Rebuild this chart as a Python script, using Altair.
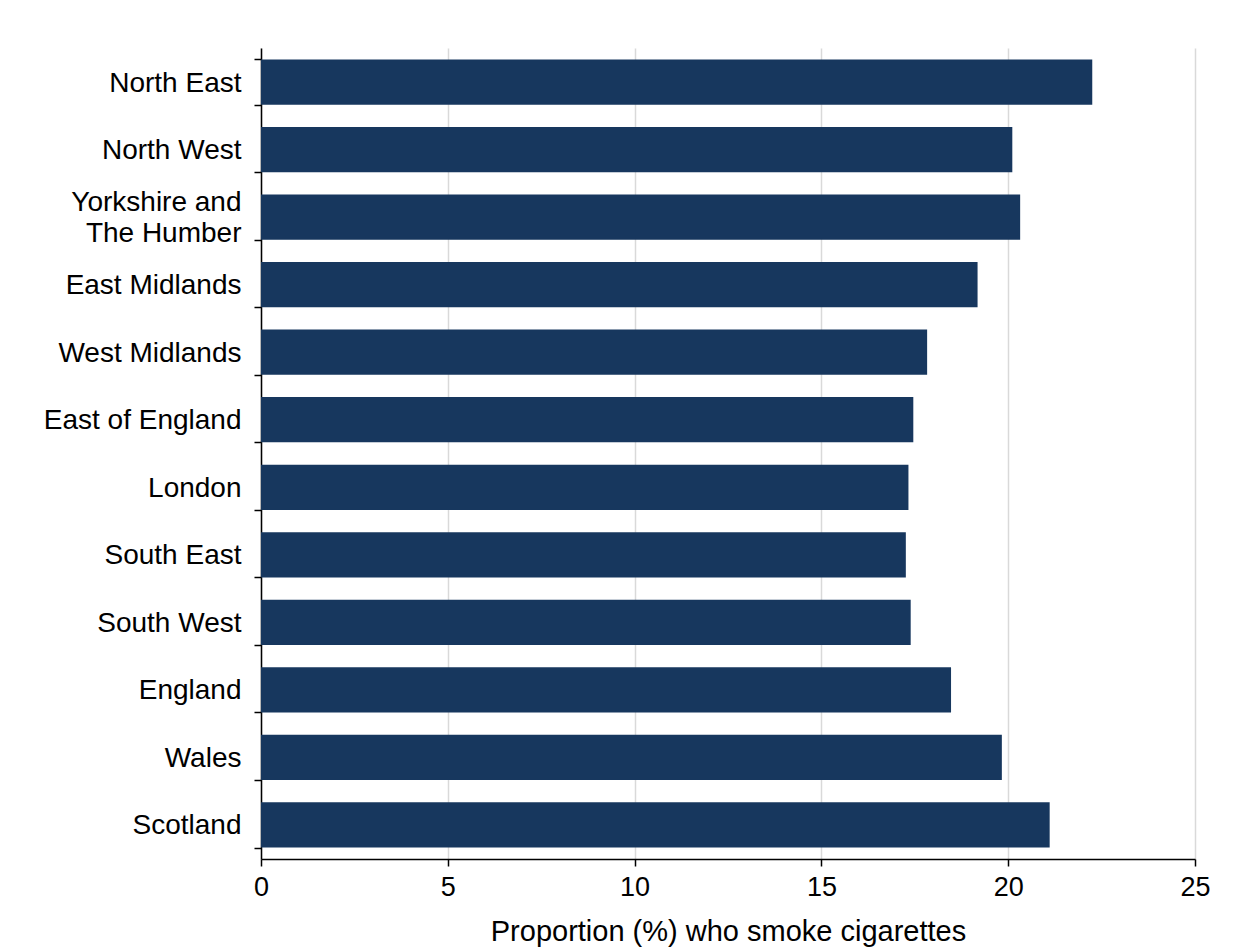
import altair as alt
import pandas as pd

regions = ["North East", "North West", "Yorkshire and The Humber", "East Midlands",
           "West Midlands", "East of England", "London", "South East", "South West",
           "England", "Wales", "Scotland"]
values = [22.25, 20.11, 20.32, 19.18, 17.83, 17.46, 17.33, 17.26, 17.39, 18.47, 19.83, 21.11]
x_ticks = [0, 5, 10, 15, 20, 25]

df = pd.DataFrame({"region": regions, "value": values})

FONT = "Liberation Sans"

chart = alt.Chart(df).mark_bar(color="#17375E").encode(
    x=alt.X("value:Q",
            scale=alt.Scale(domain=[0, 25], nice=False, zero=True),
            axis=alt.Axis(values=x_ticks, title="Proportion (%) who smoke cigarettes",
                          grid=True, gridColor="#d9d9d9", gridWidth=1.5,
                          domainColor="#000000", domainWidth=1.5,
                          tickColor="#000000", tickWidth=1.5, tickSize=7,
                          labelFlush=False,
                          labelFont=FONT, labelFontSize=27, labelColor="#000000",
                          labelPadding=8, titleFont=FONT, titleFontSize=29,
                          titleFontWeight="normal", titleColor="#000000",
                          titlePadding=17)),
    y=alt.Y("region:N", sort=regions,
            scale=alt.Scale(paddingInner=0.33, paddingOuter=0.17),
            axis=alt.Axis(title=None, grid=False, tickBand="extent",
                          domainColor="#000000", domainWidth=1.5,
                          tickColor="#000000", tickWidth=1.5, tickSize=7,
                          labelFont=FONT, labelFontSize=28, labelColor="#000000",
                          labelPadding=13, labelLineHeight=31, labelLimit=400,
                          labelOffset={"condition": {"test": "datum.label == 'Yorkshire and The Humber'", "value": -15}, "value": 1},
                          labelExpr="datum.label == 'Yorkshire and The Humber' ? ['Yorkshire and', 'The Humber'] : datum.label")),
).properties(
    width=934,
    height=811,
    autosize=alt.AutoSizeParams(type="none"),
    padding={"left": 253, "top": 40, "right": 50, "bottom": 100},
).configure(background="white").configure_view(stroke=None)

chart.save("out.html", embed_options={"renderer": "svg", "actions": False})
